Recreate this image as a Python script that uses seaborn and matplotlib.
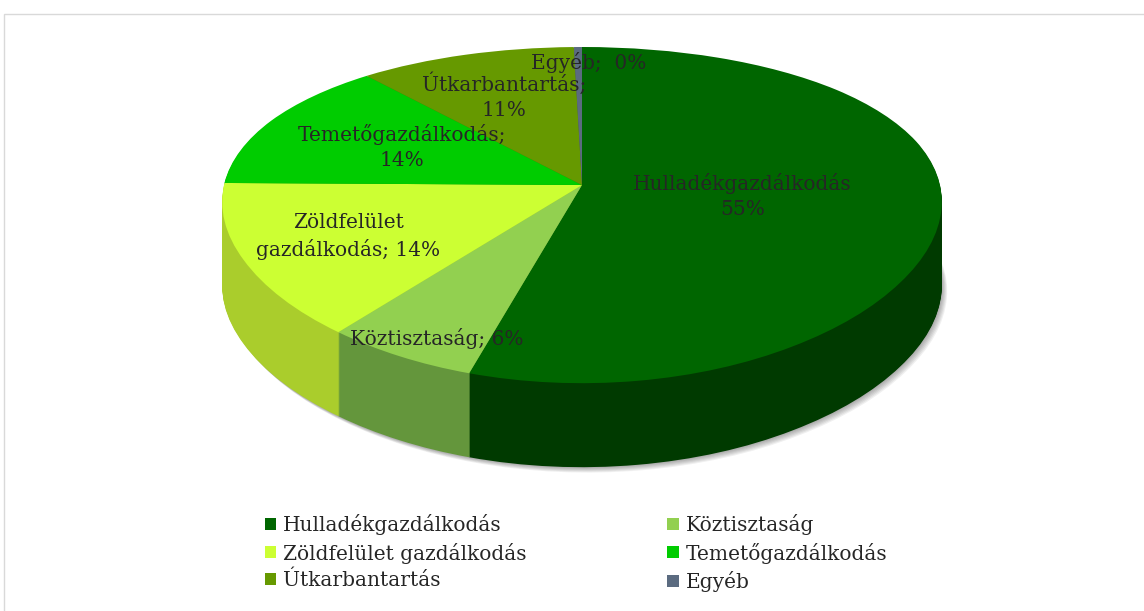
import numpy as np
import matplotlib
matplotlib.use("Agg")
import matplotlib.pyplot as plt
import seaborn as sns
from matplotlib.patches import Patch, Rectangle
from matplotlib.transforms import Transform, Affine2D

# data
categories = [
    "Hulladékgazdálkodás",
    "Köztisztaság",
    "Zöldfelület gazdálkodás",
    "Temetőgazdálkodás",
    "Útkarbantartás",
    "Egyéb",
]
shares = [54.6, 6.2, 14.4, 13.6, 10.8, 0.4]
label_text = [
    "Hulladékgazdálkodás\n{}%",
    "Köztisztaság; {}%",
    "Zöldfelület\ngazdálkodás; {}%",
    "Temetőgazdálkodás;\n{}%",
    "Útkarbantartás;\n{}%",
    "Egyéb;  {}%",
]

top_colors = ["#006600", "#92D050", "#CCFF33", "#00CC00", "#669900", "#5B6B80"]
side_colors = ["#003A00", "#64963C", "#AACD2C", "#009900", "#4D7300", "#44505F"]
# where each data label sits (fraction of radius, small angle nudge in degrees)
label_r = [0.45, 0.89, 0.70, 0.57, 0.65, 0.87]
label_nudge = [0, 3, 0, 0, 0, -2]

sns.set_theme(style="white")
plt.rcParams["font.family"] = ["DejaVu Serif", "DejaVu Sans"]
TEXT = "#262626"
FS = 14.5

# layout of the tilted pie (pixels)
CX, CY = 582, 611 - 185
SX, SY = 358, 162.7
DEPTH = 84
KX, KY = 0.10, 0.179


class Tilt(Transform):
    """cheap perspective for the pie disc"""
    input_dims = output_dims = 2

    def transform_non_affine(self, values):
        values = np.asarray(values, dtype=float)
        u, v = values[:, 0], values[:, 1]
        return np.column_stack([u / (1 + KX * v), v / (1 + KY * v)])


fig = plt.figure(figsize=(11.44, 6.11), dpi=100)
ax = fig.add_axes([0, 0, 1, 1])


def place(d=0.0, dx=0.0):
    return Tilt() + Affine2D().scale(SX, SY).translate(CX + dx, CY - d) + ax.transData


def draw_pie(colors, d, dx=0.0, alpha=1.0):
    wedges, _ = ax.pie(
        shares,
        colors=colors,
        startangle=90,
        counterclock=False,
        radius=1,
        center=(0, 0),
        wedgeprops=dict(linewidth=0, alpha=alpha),
    )
    for w in wedges:
        w.set_transform(place(d, dx))
    return wedges


# soft shadow under the disc
for i in range(1, 7):
    draw_pie(["#000000"] * len(shares), DEPTH + i * 0.9, dx=i * 0.9, alpha=0.06)

# side wall
for d in np.arange(DEPTH, 0, -1.0):
    draw_pie(side_colors, d)

# top face
draw_pie(top_colors, 0)

# data labels
total = sum(shares)
cum = np.cumsum([0] + shares)
for i, s in enumerate(shares):
    mid = np.deg2rad(90 - 360 * (cum[i] + s / 2) / total + label_nudge[i])
    u, v = label_r[i] * np.cos(mid), label_r[i] * np.sin(mid)
    pct = int(round(100 * s / total))
    ax.text(u, v, label_text[i].format(pct), transform=place(),
            ha="center", va="center", multialignment="center",
            fontsize=FS, color=TEXT, linespacing=1.4)

ax.set_aspect("auto")
ax.set_xlim(0, 1144)
ax.set_ylim(0, 611)
ax.axis("off")

# legend, filled row by row like the original
order = [0, 2, 4, 1, 3, 5]
handles = [Patch(facecolor=top_colors[i], edgecolor="none") for i in order]
fig.legend(
    handles, [categories[i] for i in order],
    ncol=2, loc="center", bbox_to_anchor=(576 / 1144, 1 - 553 / 611),
    frameon=False, fontsize=FS, labelcolor=TEXT,
    handlelength=0.55, handleheight=0.55, handletextpad=0.35,
    columnspacing=7.0, labelspacing=0.36, borderpad=0,
)

# chart area border
fig.patches.append(Rectangle((4 / 1144, -0.02), 1.1, 1 - 14 / 611 + 0.02,
                             transform=fig.transFigure, fill=False,
                             edgecolor="#d9d9d9", linewidth=1))

fig.savefig("out.png", dpi=100)
